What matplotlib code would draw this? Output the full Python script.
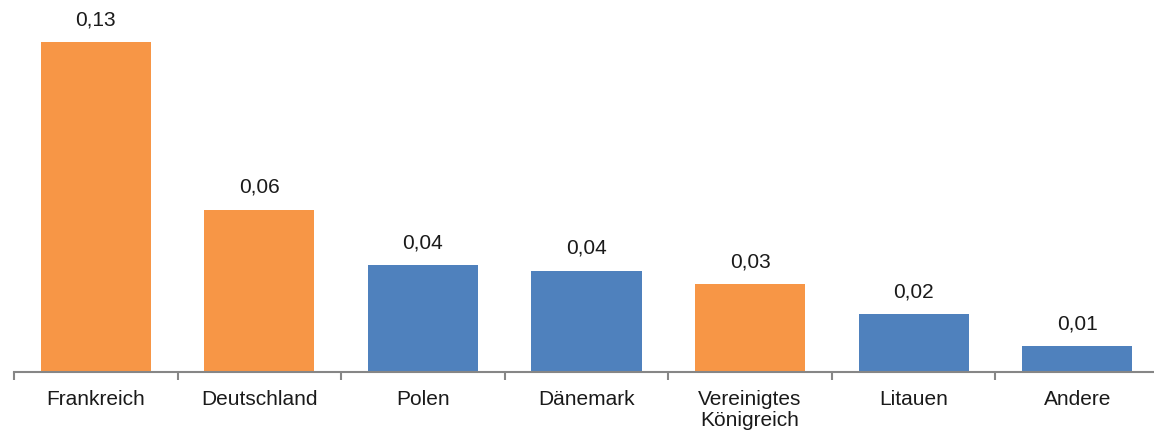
import matplotlib.pyplot as plt
import numpy as np

plt.rcParams['font.family'] = ['Liberation Sans', 'DejaVu Sans']

countries = ["Frankreich", "Deutschland", "Polen", "Dänemark",
             "Vereinigtes\nKönigreich", "Litauen", "Andere"]
values = [0.130, 0.064, 0.042, 0.040, 0.0347, 0.0229, 0.0102]
value_labels = ["0,13", "0,06", "0,04", "0,04", "0,03", "0,02", "0,01"]
highlight = [True, True, False, False, True, False, False]

orange = "#F79646"
blue = "#4F81BD"
colors = [orange if h else blue for h in highlight]

fig = plt.figure(figsize=(11.54, 4.35), dpi=100)
ax = fig.add_axes([0.0121, 0.1425, 0.9922, 0.8575])

x = np.arange(len(countries))
ax.bar(x, values, width=0.673, color=colors)

for a, b, t in zip(x, values, value_labels):
    ax.annotate(t, (a, b), xytext=(0, 10), textcoords="offset points",
                ha="center", va="bottom", fontsize=15, color="#1a1a1a")

ax.set_xlim(-0.5, len(countries) - 0.5)
ax.set_ylim(0, 0.147)

for s in ["top", "right", "left"]:
    ax.spines[s].set_visible(False)
ax.spines["bottom"].set_color("#868686")
ax.spines["bottom"].set_linewidth(1.5)
ax.set_yticks([])

ax.set_xticks(np.arange(-0.5, len(countries)), minor=False)
ax.set_xticklabels([])
ax.tick_params(axis="x", which="major", length=6, width=1.5, color="#868686")
ax.set_xticks(x, minor=True)
ax.set_xticklabels(countries, minor=True, fontsize=15, color="#1a1a1a",
                   linespacing=1.15)
ax.tick_params(axis="x", which="minor", length=0, pad=12)

fig.savefig("out.png", dpi=100)
